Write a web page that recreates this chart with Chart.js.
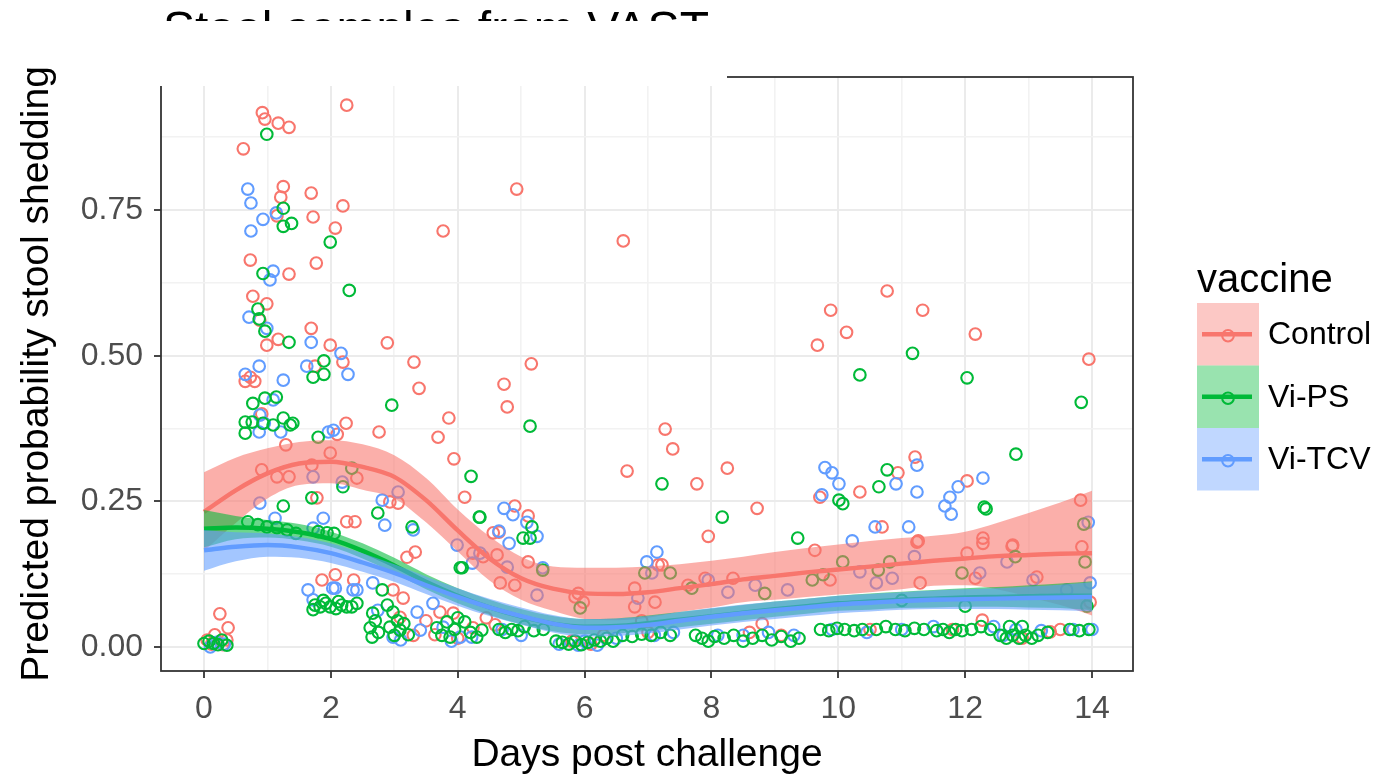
<!DOCTYPE html>
<html>
<head>
<meta charset="utf-8">
<script src="https://cdn.jsdelivr.net/npm/chart.js@4.4.1/dist/chart.umd.min.js"></script>
<style>
  html, body { margin: 0; padding: 0; background: #ffffff; }
  #wrap { width: 1386px; height: 778px; position: relative; }
  canvas { display: block; }
</style>
</head>
<body>
<div id="wrap"><canvas id="c" width="1386" height="778"></canvas></div>
<script>
// ---------------- DATA ----------------
const chartTitle = "Stool samples from VAST";
const xTitle = "Days post challenge";
const yTitle = "Predicted probability stool shedding";
const legendTitle = "vaccine";
const seriesNames = ["Control", "Vi-PS", "Vi-TCV"];

const xTickValues = [0,1,2,3,4,5,6,7,8,9,10,11,12,13,14];
const xMajorTicks = [0,2,4,6,8,10,12,14];
const yTickValues = [0,0.125,0.25,0.375,0.5,0.625,0.75,0.875];
const yMajorTicks = [0,0.25,0.5,0.75];

const controlPts = [
 [0.92,0.917],[0.96,0.906],[1.17,0.899],[1.34,0.892],[2.25,0.93],[0.62,0.855],[1.25,0.79],[1.21,0.772],
 [1.69,0.779],[2.19,0.757],[1.72,0.738],[1.15,0.74],[2.07,0.719],[3.77,0.714],[0.73,0.664],[1.77,0.659],
 [1.34,0.64],[0.77,0.602],[0.99,0.589],[0.88,0.561],[1.69,0.547],[1.17,0.528],[0.99,0.518],[1.99,0.518],
 [2.89,0.522],[2.19,0.489],[3.31,0.489],[1.75,0.482],[0.73,0.463],[0.65,0.456],[0.80,0.456],[0.91,0.40],
 [2.24,0.384],[2.10,0.365],[2.76,0.369],[3.69,0.36],[3.86,0.393],[3.39,0.444],[4.73,0.451],[4.78,0.412],
 [1.29,0.347],[3.94,0.323],[4.11,0.257],[1.99,0.333],[0.91,0.304],[1.15,0.292],[1.34,0.292],[1.70,0.312],
 [2.41,0.29],[1.78,0.256],[2.25,0.215],[2.38,0.215],[3.06,0.247],[2.93,0.249],[3.33,0.163],[3.20,0.154],
 [1.86,0.115],[2.07,0.124],[2.36,0.115],[4.56,0.196],[4.62,0.158],[4.40,0.155],[4.24,0.161],
 [4.93,0.786],[5.16,0.486],[6.61,0.697],[7.27,0.374],[7.39,0.34],[6.67,0.302],[7.77,0.28],[8.25,0.307],
 [8.72,0.238],[7.95,0.19],[4.9,0.242],[5.11,0.225],[4.65,0.197],[9.71,0.257],[5.11,0.146],
 [10.77,0.611],[9.88,0.578],[11.33,0.578],[10.13,0.54],[9.67,0.518],[12.16,0.537],[13.95,0.494],
 [11.21,0.326],[10.94,0.299],[12.03,0.285],[10.34,0.266],[13.82,0.252],[10.69,0.206],[11.26,0.182],
 [12.28,0.187],[12.74,0.173],
 [2.98,0.098],[3.14,0.084],[3.09,0.051],[3.72,0.06],[3.93,0.058],[3.64,0.021],[4.24,0.033],[4.59,0.038],
 [6.79,0.101],[7.63,0.106],[8.34,0.118],[7.9,0.118],[5.98,0.077],[5.85,0.086],[7.16,0.141],[4.67,0.11],
 [4.9,0.106],[9.63,0.166],[7.11,0.077],[6.79,0.069],[5.9,0.092],[7.22,0.141],
 [9.87,0.115],[11.29,0.11],[12.03,0.161],[12.28,0.178],[12.75,0.175],[13.13,0.12],[13.84,0.172],
 [12.16,0.118],[11.24,0.18],[12.27,0.046],[13.34,0.026],[13.97,0.077],
 [0.25,0.057],[0.38,0.033],[0.17,0.021],[0.05,0.012],[0.36,0.012],[0.12,0.005],[0.3,0.004],
 [5.8,0.01],[6.1,0.005],[6.3,0.02],[3.3,0.02],[4.0,0.015],[9.1,0.02],[8.6,0.025],[11.8,0.03],
 [12.9,0.015],[13.5,0.03],[7.0,0.025],[10.5,0.03],[3.5,0.045],[4.45,0.05],[6.9,0.045],[8.8,0.04]
];

const vipsPts = [
 [0.99,0.88],[1.25,0.753],[1.25,0.722],[1.38,0.727],[1.99,0.695],[0.93,0.641],[2.29,0.612],[0.85,0.58],
 [0.87,0.563],[0.96,0.542],[1.34,0.523],[1.89,0.491],[1.89,0.468],[1.72,0.463],[2.96,0.415],[0.77,0.418],
 [0.96,0.427],[1.14,0.429],[0.65,0.386],[0.76,0.386],[0.65,0.367],[1.25,0.393],[1.40,0.384],[1.36,0.381],
 [1.09,0.381],[1.80,0.36],[0.93,0.384],[4.21,0.293],[4.34,0.223],[1.25,0.242],[1.70,0.256],[2.19,0.275],
 [2.33,0.307],[2.74,0.23],[3.28,0.206],[4.04,0.136],[0.69,0.215],[0.99,0.206],[1.31,0.201],[1.94,0.196],
 [0.85,0.21],[1.15,0.205],[1.45,0.195],[1.8,0.198],[2.05,0.195],
 [5.14,0.379],[7.22,0.28],[8.17,0.223],[9.36,0.187],[4.35,0.223],[5.03,0.187],[5.14,0.187],[5.17,0.206],
 [5.34,0.132],[11.17,0.504],[10.34,0.467],[12.03,0.462],[13.83,0.42],[12.8,0.331],[10.77,0.304],
 [10.64,0.275],[10.01,0.252],[10.07,0.246],[12.30,0.24],[12.33,0.237],[13.87,0.211],
 [1.72,0.064],[1.75,0.072],[1.83,0.069],[1.92,0.075],[1.99,0.069],[2.08,0.066],[2.17,0.072],[2.25,0.069],
 [2.33,0.069],[2.41,0.075],[1.88,0.08],[2.12,0.078],
 [2.81,0.098],[2.89,0.072],[2.66,0.058],[2.98,0.06],[2.62,0.033],[2.65,0.017],[2.93,0.034],[3.09,0.029],
 [3.22,0.021],[2.75,0.025],[3.0,0.02],[3.15,0.04],[2.7,0.045],[3.05,0.045],
 [3.67,0.033],[3.83,0.043],[3.88,0.017],[4.11,0.043],[4.30,0.017],[4.38,0.029],[4.07,0.136],[3.75,0.02],[4.2,0.025],
 [3.95,0.03],[4.0,0.05],
 [0.0,0.006],[0.15,0.006],[0.36,0.003],[0.28,0.012],[0.08,0.01],[0.22,0.004],
 [4.65,0.03],[4.75,0.025],[4.85,0.03],[4.95,0.028],[5.05,0.035],[5.2,0.028],[5.35,0.03],
 [5.55,0.01],[5.65,0.008],[5.75,0.005],[5.85,0.01],[5.95,0.004],[6.05,0.008],[6.15,0.012],[6.25,0.01],
 [6.35,0.015],[6.45,0.01],
 [6.6,0.02],[6.75,0.018],[6.9,0.022],[7.05,0.02],[7.2,0.025],[7.35,0.02],
 [7.75,0.02],[7.85,0.015],[7.95,0.01],[8.05,0.018],[8.2,0.015],[8.35,0.02],[8.5,0.01],[8.65,0.015],
 [8.8,0.02],[8.95,0.012],[9.1,0.018],[9.25,0.01],[9.38,0.015],
 [5.93,0.067],[6.95,0.127],[7.35,0.127],[7.69,0.101],[8.84,0.092],[9.59,0.115],
 [9.72,0.03],[9.85,0.028],[9.98,0.032],[10.1,0.03],[10.25,0.028],[10.38,0.03],
 [10.6,0.03],[10.75,0.035],[10.9,0.03],[11.05,0.028],[11.2,0.032],[11.35,0.03],
 [11.55,0.028],[11.65,0.03],[11.75,0.025],[11.85,0.03],[11.95,0.028],[12.1,0.03],[12.25,0.035],[12.4,0.03],
 [12.55,0.02],[12.65,0.015],[12.75,0.02],[12.85,0.015],[12.95,0.02],[13.05,0.015],[13.15,0.02],[13.3,0.025],
 [12.7,0.035],[12.9,0.035],
 [13.65,0.03],[13.8,0.028],[13.95,0.03],
 [10.07,0.146],[10.81,0.146],[10.63,0.132],[11.95,0.127],[12.79,0.155],[13.89,0.146],[9.76,0.124],
 [13.92,0.07],[12.0,0.07],[11.0,0.08]
];

const vitcvPts = [
 [0.69,0.786],[0.74,0.762],[1.14,0.745],[0.93,0.734],[0.74,0.714],[1.09,0.645],[1.04,0.63],[0.71,0.566],
 [0.99,0.547],[1.69,0.523],[2.16,0.504],[2.27,0.468],[1.62,0.482],[0.87,0.482],[0.65,0.468],[1.25,0.458],
 [0.88,0.398],[0.95,0.384],[1.21,0.369],[0.87,0.369],[1.96,0.369],[2.04,0.372],[1.09,0.424],
 [0.88,0.247],[1.12,0.221],[1.88,0.221],[1.72,0.204],[2.18,0.283],[1.72,0.292],[2.81,0.252],[3.06,0.266],
 [2.85,0.209],[3.30,0.201],[2.07,0.101],[2.35,0.098],[2.66,0.11],[3.99,0.175],[4.23,0.144],[4.35,0.161],
 [4.73,0.238],[4.87,0.227],[5.09,0.214],[4.65,0.199],[4.81,0.178],[5.25,0.19],[7.14,0.163],[6.98,0.146],
 [7.06,0.127],
 [9.79,0.308],[9.9,0.299],[10.01,0.28],[9.74,0.261],[11.24,0.312],[10.91,0.28],[11.24,0.266],[12.28,0.29],
 [11.89,0.275],[11.76,0.257],[11.68,0.242],[11.78,0.228],[11.11,0.206],[10.58,0.206],[13.94,0.214],[10.22,0.182],
 [1.64,0.098],[2.03,0.101],[2.41,0.098],[1.72,0.081],[2.74,0.063],[3.36,0.06],[3.41,0.029],[2.98,0.017],
 [3.61,0.075],[3.77,0.034],[4.04,0.017],[4.22,0.017],[8.26,0.094],[7.95,0.115],[6.84,0.084],[9.2,0.098],
 [8.69,0.106],[5.34,0.136],[4.78,0.137],[5.25,0.089],
 [10.34,0.129],[10.85,0.118],[11.2,0.155],[12.23,0.127],[12.66,0.146],[13.07,0.115],[13.6,0.098],[13.97,0.11],[10.6,0.11],
 [0.1,0.0],[0.2,0.008],[0.32,0.005],[4.7,0.03],[5.0,0.02],[5.6,0.005],[6.0,0.01],[6.2,0.003],[6.5,0.015],
 [7.1,0.02],[7.4,0.025],[8.1,0.02],[8.9,0.025],[9.9,0.03],[10.45,0.025],[11.0,0.03],[11.5,0.035],
 [12.45,0.035],[12.8,0.03],[13.2,0.028],[13.7,0.03],[14.0,0.03],[3.9,0.01],[3.1,0.012],
 [5.9,0.003],[8.5,0.02],[9.3,0.02],[12.6,0.02]
];

// smoothed fits (loess) and confidence ribbons, read at these days
const fitDays     = [0,0.5,1,1.5,2,2.5,3,3.5,4,4.5,5,5.5,6,6.5,7,7.5,8,8.5,9,9.5,10,10.5,11,11.5,12,12.5,13,13.5,14];
const controlFit  = [.232,.269,.298,.315,.318,.309,.292,.252,.200,.152,.118,.100,.092,.091,.094,.101,.108,.116,.122,.128,.133,.138,.143,.148,.152,.156,.158,.160,.161];
const controlUp   = [.300,.325,.341,.352,.355,.348,.329,.290,.236,.190,.155,.138,.136,.136,.138,.142,.148,.155,.163,.170,.176,.182,.187,.191,.198,.213,.230,.248,.268];
const controlLo   = [.165,.213,.255,.278,.281,.270,.255,.214,.164,.114,.081,.062,.048,.046,.050,.060,.068,.077,.081,.086,.090,.094,.099,.105,.106,.099,.086,.072,.054];
const vipsFit     = [.203,.205,.203,.197,.185,.165,.140,.112,.088,.068,.052,.040,.035,.036,.041,.047,.053,.059,.065,.070,.075,.078,.081,.083,.085,.086,.087,.088,.088];
const vipsUp      = [.235,.225,.218,.211,.198,.178,.153,.125,.101,.081,.065,.053,.048,.049,.054,.060,.066,.072,.078,.083,.088,.092,.095,.098,.101,.103,.106,.109,.113];
const vipsLo      = [.171,.185,.188,.183,.172,.152,.127,.099,.075,.055,.039,.027,.022,.023,.028,.034,.040,.046,.052,.057,.062,.064,.067,.068,.069,.069,.068,.067,.063];
const vitcvFit    = [.166,.172,.175,.171,.161,.145,.127,.106,.086,.068,.053,.040,.033,.034,.038,.045,.052,.058,.063,.068,.073,.076,.079,.081,.082,.083,.084,.085,.086];
const vitcvUp     = [.201,.197,.195,.189,.178,.161,.142,.121,.101,.083,.068,.055,.048,.049,.053,.060,.067,.073,.078,.083,.088,.091,.094,.097,.099,.101,.104,.107,.111];
const vitcvLo     = [.131,.147,.155,.153,.144,.129,.112,.091,.071,.053,.038,.025,.018,.019,.023,.030,.037,.043,.048,.053,.058,.061,.064,.065,.065,.065,.064,.063,.061];

// ---------------- STYLE ----------------
const FONT = "'Liberation Sans', Arial, Helvetica, sans-serif";
const colors = ["#F8766D", "#00BA38", "#619CFF"];
const rgb = [[248,118,109],[0,186,56],[97,156,255]];
const bandAlpha = 0.58;
const keyAlpha = 0.4;

function toXY(arr) { return arr.map(p => ({x: p[0], y: p[1]})); }
function curve(ys) { return fitDays.map((d, i) => ({x: d, y: ys[i]})); }
function rgba(i, a) { return `rgba(${rgb[i][0]},${rgb[i][1]},${rgb[i][2]},${a})`; }

function pointSet(label, pts, i, order) {
  return { type: 'scatter', label, data: toXY(pts), order,
    pointStyle: 'circle', pointRadius: 5.8, pointHoverRadius: 5.8,
    pointBorderWidth: 2.1, borderColor: colors[i], pointBorderColor: colors[i],
    backgroundColor: 'rgba(0,0,0,0)', pointBackgroundColor: 'rgba(0,0,0,0)', showLine: false };
}
function lowerSet(ys, order) {
  return { type: 'line', data: curve(ys), order, borderWidth: 0, borderColor: 'rgba(0,0,0,0)',
    pointRadius: 0, fill: false, cubicInterpolationMode: 'monotone' };
}
function upperSet(ys, i, order) {
  return { type: 'line', data: curve(ys), order, borderWidth: 0, borderColor: 'rgba(0,0,0,0)',
    pointRadius: 0, fill: '-1', backgroundColor: rgba(i, bandAlpha), cubicInterpolationMode: 'monotone' };
}
function fitSet(ys, i, order) {
  return { type: 'line', data: curve(ys), order, borderWidth: 4.4, borderColor: colors[i],
    pointRadius: 0, fill: false, cubicInterpolationMode: 'monotone' };
}

const datasets = [
  pointSet(seriesNames[0], controlPts, 0, 30),
  pointSet(seriesNames[2], vitcvPts, 2, 29),
  pointSet(seriesNames[1], vipsPts, 1, 28),
  lowerSet(controlLo, 21), upperSet(controlUp, 0, 20), fitSet(controlFit, 0, 19),
  lowerSet(vipsLo, 18.5),  upperSet(vipsUp, 1, 18),    fitSet(vipsFit, 1, 17),
  lowerSet(vitcvLo, 16.5), upperSet(vitcvUp, 2, 16),   fitSet(vitcvFit, 2, 15)
];

function isMajor(v, list) { return list.some(m => Math.abs(m - v) < 1e-9); }

const decorPlugin = {
  id: 'decor',
  afterDraw(chart) {
    const ctx = chart.ctx, a = chart.chartArea;
    ctx.save();
    // panel border
    ctx.strokeStyle = '#333333';
    ctx.lineWidth = 1.8;
    ctx.strokeRect(a.left, a.top, a.right - a.left, a.bottom - a.top);
    // title (partially hidden, as in the source image)
    ctx.fillStyle = '#000000';
    ctx.font = `48px ${FONT}`;
    ctx.textAlign = 'left';
    ctx.textBaseline = 'alphabetic';
    ctx.fillText(chartTitle, 163, 44.5);
    ctx.fillStyle = '#ffffff';
    ctx.fillRect(150, 21, 577, 65);
    // legend
    ctx.fillStyle = '#000000';
    ctx.font = `40px ${FONT}`;
    ctx.fillText(legendTitle, 1197, 292);
    const kx = 1197, ky = 303, kw = 62, kh = 62.5;
    for (let i = 0; i < 3; i++) {
      const y0 = ky + i * kh, cy = y0 + kh / 2;
      ctx.fillStyle = rgba(i, keyAlpha);
      ctx.fillRect(kx, y0, kw, kh);
      ctx.beginPath();
      ctx.arc(kx + 31, cy + 1.5, 5.8, 0, Math.PI * 2);
      ctx.strokeStyle = colors[i];
      ctx.lineWidth = 2.1;
      ctx.stroke();
      ctx.beginPath();
      ctx.moveTo(kx + 5, cy);
      ctx.lineTo(kx + 55, cy);
      ctx.lineWidth = 4.4;
      ctx.stroke();
      ctx.fillStyle = '#000000';
      ctx.font = `32px ${FONT}`;
      ctx.textBaseline = 'middle';
      ctx.fillText(seriesNames[i], 1268, cy + 1);
      ctx.textBaseline = 'alphabetic';
    }
    ctx.restore();
  }
};

new Chart(document.getElementById('c'), {
  type: 'scatter',
  data: { datasets },
  plugins: [decorPlugin],
  options: {
    responsive: false,
    animation: false,
    devicePixelRatio: 1,
    layout: { padding: { left: 0, top: 77, right: 253, bottom: 0 } },
    plugins: { legend: { display: false }, tooltip: { enabled: false }, title: { display: false } },
    scales: {
      x: {
        type: 'linear', min: -0.678, max: 14.646,
        afterBuildTicks: s => { s.ticks = xTickValues.map(v => ({value: v})); },
        afterFit: s => { s.height = 107; },
        border: { display: false },
        grid: {
          color: c => isMajor(c.tick.value, xMajorTicks) ? '#ebebeb' : '#f2f2f2',
          lineWidth: c => isMajor(c.tick.value, xMajorTicks) ? 2 : 1.6,
          drawTicks: true, tickLength: 7, tickWidth: 1.8,
          tickColor: c => isMajor(c.tick.value, xMajorTicks) ? '#333333' : 'rgba(0,0,0,0)'
        },
        ticks: {
          autoSkip: false, maxRotation: 0, padding: 12, color: '#4d4d4d',
          font: { family: FONT, size: 32 },
          callback: v => isMajor(v, xMajorTicks) ? String(v) : ''
        },
        title: { display: true, text: xTitle, color: '#000000',
          font: { family: FONT, size: 39, lineHeight: 1 }, padding: { top: 0, bottom: 3.5 } }
      },
      y: {
        type: 'linear', min: -0.0412, max: 0.9783,
        afterBuildTicks: s => { s.ticks = yTickValues.map(v => ({value: v})); },
        afterFit: s => { s.width = 161; },
        border: { display: false },
        grid: {
          color: c => isMajor(c.tick.value, yMajorTicks) ? '#ebebeb' : '#f2f2f2',
          lineWidth: c => isMajor(c.tick.value, yMajorTicks) ? 2 : 1.6,
          drawTicks: true, tickLength: 7, tickWidth: 1.8,
          tickColor: c => isMajor(c.tick.value, yMajorTicks) ? '#333333' : 'rgba(0,0,0,0)'
        },
        ticks: {
          autoSkip: false, padding: 11, color: '#4d4d4d',
          font: { family: FONT, size: 32 },
          callback: v => isMajor(v, yMajorTicks) ? v.toFixed(2) : ''
        },
        title: { display: true, text: yTitle, color: '#000000',
          font: { family: FONT, size: 39, lineHeight: 1 }, padding: { top: 18, bottom: 0 } }
      }
    }
  }
});
</script>
</body>
</html>
